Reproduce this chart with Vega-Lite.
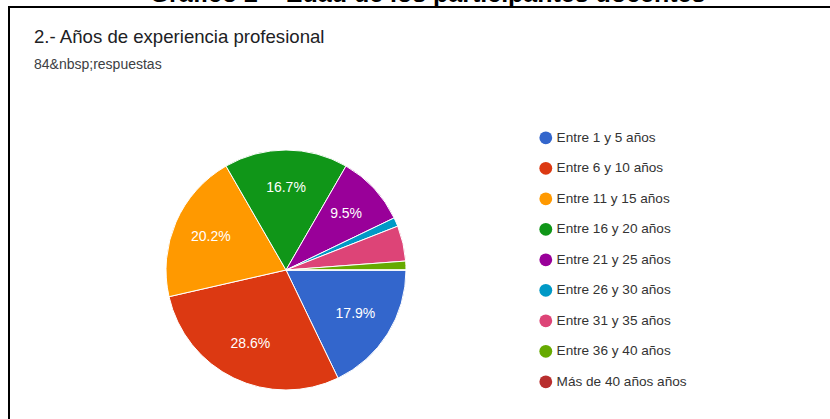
{
  "$schema": "https://vega.github.io/schema/vega-lite/v6.json",
  "autosize": "none",
  "width": 900,
  "height": 500,
  "padding": {"left": 9, "top": 7, "right": 0, "bottom": 0},
  "background": "white",
  "config": {
    "view": {"stroke": "black", "strokeWidth": 2},
    "font": "Liberation Sans"
  },
  "title": {
    "text": "2.- Años de experiencia profesional",
    "subtitle": "84&nbsp;respuestas",
    "anchor": "start",
    "frame": "group",
    "orient": "top",
    "offset": -91,
    "dx": 25,
    "font": "Liberation Sans",
    "fontSize": 18.6,
    "fontWeight": "normal",
    "color": "#202124",
    "subtitleFont": "Liberation Sans",
    "subtitleFontSize": 14,
    "subtitleColor": "#3c4043",
    "subtitlePadding": 11
  },
  "data": {
    "values": [
      {"cat": "Entre 1 y 5 años", "n": 15, "label": "17.9%", "ord": 1},
      {"cat": "Entre 6 y 10 años", "n": 24, "label": "28.6%", "ord": 2},
      {"cat": "Entre 11 y 15 años", "n": 17, "label": "20.2%", "ord": 3},
      {"cat": "Entre 16 y 20 años", "n": 14, "label": "16.7%", "ord": 4},
      {"cat": "Entre 21 y 25 años", "n": 8, "label": "9.5%", "ord": 5},
      {"cat": "Entre 26 y 30 años", "n": 1, "label": "", "ord": 6},
      {"cat": "Entre 31 y 35 años", "n": 4, "label": "", "ord": 7},
      {"cat": "Entre 36 y 40 años", "n": 1, "label": "", "ord": 8},
      {"cat": "Más de 40 años años", "n": 0, "label": "", "ord": 9}
    ]
  },
  "encoding": {
    "theta": {"field": "n", "type": "quantitative", "stack": true, "scale": {"range": [1.5708, 7.854]}},
    "order": {"field": "ord", "type": "quantitative"}
  },
  "layer": [
    {
      "mark": {"type": "arc", "x": 277, "y": 263, "outerRadius": 120, "stroke": "white", "strokeWidth": 1},
      "encoding": {
        "color": {
          "field": "cat",
          "type": "nominal",
          "sort": {"field": "ord"},
          "scale": {
            "domain": ["Entre 1 y 5 años", "Entre 6 y 10 años", "Entre 11 y 15 años", "Entre 16 y 20 años", "Entre 21 y 25 años", "Entre 26 y 30 años", "Entre 31 y 35 años", "Entre 36 y 40 años", "Más de 40 años años"],
            "range": ["#3366cc", "#dc3912", "#ff9900", "#109618", "#990099", "#0099c6", "#dd4477", "#66aa00", "#b82e2e"]
          },
          "legend": {
            "orient": "none",
            "legendX": 530,
            "legendY": 124,
            "title": null,
            "symbolType": "circle",
            "symbolSize": 165,
            "symbolStrokeWidth": 0,
            "labelFont": "Liberation Sans",
            "labelFontSize": 13.6,
            "labelColor": "#333333",
            "labelOffset": 4,
            "rowPadding": 15.5
          }
        }
      }
    },
    {
      "transform": [{"filter": "datum.label != ''"}],
      "mark": {"type": "text", "x": 277, "y": 263, "radius": 82, "color": "white", "font": "Liberation Sans", "fontSize": 14},
      "encoding": {"text": {"field": "label"}}
    },
    {
      "mark": {"type": "point", "opacity": 0},
      "encoding": {
        "theta": null,
        "order": null,
        "x": {
          "field": "n",
          "type": "quantitative",
          "axis": {
            "orient": "top",
            "domain": false,
            "ticks": false,
            "labels": false,
            "grid": false,
            "title": "Gráfico 2 – Edad de los participantes docentes",
            "titleFont": "Liberation Sans",
            "titleFontWeight": "bold",
            "titleFontSize": 25,
            "titleColor": "black",
            "titleX": 418,
            "titleY": -6,
            "titleAlign": "center",
            "titleBaseline": "alphabetic"
          }
        }
      }
    }
  ]
}
